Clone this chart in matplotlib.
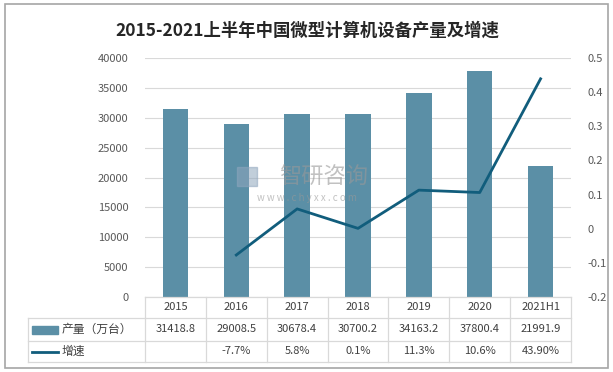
import numpy as np
import matplotlib.pyplot as plt
from matplotlib.patches import Rectangle
from matplotlib.lines import Line2D

plt.rcParams['font.family'] = ['Noto Sans CJK SC', 'DejaVu Sans']

# data
years = ['2015', '2016', '2017', '2018', '2019', '2020', '2021H1']
output = [31418.8, 29008.5, 30678.4, 30700.2, 34163.2, 37800.4, 21991.9]
growth = [None, -0.077, 0.058, 0.001, 0.113, 0.106, 0.439]
growth_txt = ['', '-7.7%', '5.8%', '0.1%', '11.3%', '10.6%', '43.90%']
left_ticks = [0, 5000, 10000, 15000, 20000, 25000, 30000, 35000, 40000]
right_ticks = [-0.2, -0.1, 0, 0.1, 0.2, 0.3, 0.4, 0.5]
right_labels = ['-0.2', '-0.1', '0', '0.1', '0.2', '0.3', '0.4', '0.5']

bar_color = '#5b8fa6'
line_color = '#115d7c'
grid_color = '#d9d9d9'
tick_color = '#595959'
text_color = '#404040'

W, H = 613, 372
fig = plt.figure(figsize=(W / 100, H / 100), dpi=100)

# outer frame
fig.patches.append(Rectangle((5 / W, 4 / H), 603 / W, 364 / H, transform=fig.transFigure,
                             fill=False, edgecolor='#a6a6a6', lw=1.2))

fig.text(307 / W, 1 - 31 / H, '2015-2021上半年中国微型计算机设备产量及增速',
         ha='center', va='center', fontsize=12.5, fontweight='bold', color='#262626')

L, R, T, B = 145, 571, 58, 297
ax = fig.add_axes([L / W, 1 - B / H, (R - L) / W, (B - T) / H])
x = np.arange(len(years))
ax.bar(x, output, width=0.42, color=bar_color, zorder=2)
ax.set_xlim(-0.5, len(years) - 0.5)
ax.set_ylim(0, 40000)
ax.set_yticks(left_ticks)
ax.set_yticklabels([str(v) for v in left_ticks])
ax.grid(axis='y', color=grid_color, lw=0.8, zorder=0)
ax.set_xticks([])
for s in ax.spines.values():
    s.set_visible(False)
ax.tick_params(axis='y', length=0, pad=12, labelsize=8, labelcolor=tick_color)

ax2 = ax.twinx()
gx = [i for i, g in enumerate(growth) if g is not None]
gy = [g for g in growth if g is not None]
ax2.plot(gx, gy, color=line_color, lw=2.0, zorder=3)
ax2.set_ylim(-0.2, 0.5)
ax2.set_yticks(right_ticks)
ax2.set_yticklabels(right_labels)
for s in ax2.spines.values():
    s.set_visible(False)
ax2.tick_params(axis='y', length=0, pad=12, labelsize=8, labelcolor=tick_color)

# watermark
ax2.add_patch(Rectangle((0.217, 0.465), 0.045, 0.08, transform=ax.transAxes,
                        color='#8fa6bd', alpha=0.55, zorder=4))
ax2.text(0.42, 0.50, '智研咨询', transform=ax.transAxes, ha='center', va='center',
         fontsize=16, color='#999999', alpha=0.6, zorder=4)
ax2.text(0.38, 0.414, 'w w w . c h y x x . c o m', transform=ax.transAxes, ha='center',
         va='center', fontsize=7, color='#999999', alpha=0.6, zorder=4)

# data table below the plot
ph = 1 / (B - T)  # one pixel in axes units
row_y = [0, -21 * ph, -44 * ph, -65 * ph]
tr = ax.get_xaxis_transform()
lkw = dict(transform=tr, color=grid_color, lw=0.9, clip_on=False)
xl = -0.5 - (L - 28) / ((R - L) / len(years))
ax.add_line(Line2D([-0.5, len(years) - 0.5], [0, 0], **lkw))
for yy in row_y[1:]:
    ax.add_line(Line2D([xl, len(years) - 0.5], [yy, yy], **lkw))
for k in range(len(years) + 1):
    ax.add_line(Line2D([k - 0.5, k - 0.5], [0, row_y[-1]], **lkw))
ax.add_line(Line2D([xl, xl], [row_y[1], row_y[-1]], **lkw))

mid = [(row_y[i] + row_y[i + 1]) / 2 for i in range(3)]
for i, yr in enumerate(years):
    ax.text(i, mid[0], yr, transform=tr, ha='center', va='center', fontsize=8, color=text_color)
    ax.text(i, mid[1], f'{output[i]:.1f}', transform=tr, ha='center', va='center',
            fontsize=8, color=text_color)
    ax.text(i, mid[2], growth_txt[i], transform=tr, ha='center', va='center',
            fontsize=8, color=text_color)

# legend keys inside the table
kx0 = xl + 4 / ((R - L) / len(years))
kx1 = xl + 30 / ((R - L) / len(years))
ax.add_patch(Rectangle((kx0, mid[1] - 4 * ph), kx1 - kx0, 8 * ph, transform=tr,
                       color=bar_color, clip_on=False))
ax.add_line(Line2D([kx0, kx1], [mid[2], mid[2]], transform=tr, color=line_color,
                   lw=2.0, clip_on=False))
tx = xl + 34 / ((R - L) / len(years))
ax.text(tx, mid[1], '产量（万台）', transform=tr, ha='left', va='center', fontsize=8.5,
        color=text_color)
ax.text(tx, mid[2], '增速', transform=tr, ha='left', va='center', fontsize=8.5,
        color=text_color)

fig.savefig('out.png', dpi=100)
